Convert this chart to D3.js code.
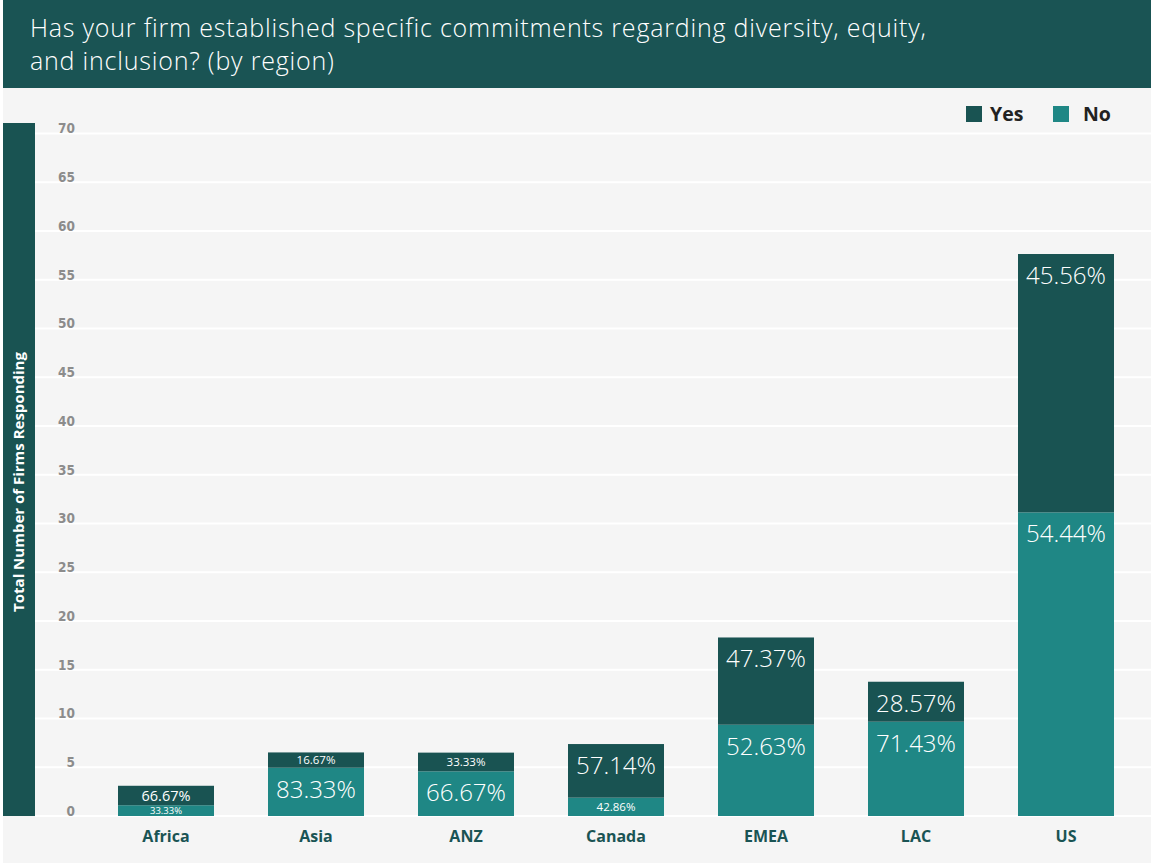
<!DOCTYPE html>
<html>
<head>
<meta charset="utf-8">
<script src="https://cdn.jsdelivr.net/npm/d3@7"></script>
<style>
  html, body { margin: 0; padding: 0; background: #ffffff; }
  svg { display: block; }
</style>
</head>
<body>
<svg id="chart" width="1151" height="867"></svg>
<script>
// Regions surveyed
const regions = ["Africa", "Asia", "ANZ", "Canada", "EMEA", "LAC", "US"];
// Number of firms per answer
const noValues  = [1.1, 4.95, 4.58, 1.88, 9.36, 9.67, 31.14];
const yesValues = [2.0, 1.57, 1.92, 5.5, 8.95, 4.1, 26.5];
// Share labels shown on each segment
const noLabels  = ["33.33%", "83.33%", "66.67%", "42.86%", "52.63%", "71.43%", "54.44%"];
const yesLabels = ["66.67%", "16.67%", "33.33%", "57.14%", "47.37%", "28.57%", "45.56%"];
const yTicks = [0, 5, 10, 15, 20, 25, 30, 35, 40, 45, 50, 55, 60, 65, 70];

const C_YES = "#195352";
const C_NO = "#1f8785";
const FONT = "'Open Sans', Lato, sans-serif";

const svg = d3.select("#chart");
const W = 1151, H = 867;

// panel background
svg.append("rect").attr("x", 3).attr("y", 0).attr("width", W - 3).attr("height", H - 4).attr("fill", "#f5f5f5");

// title banner
svg.append("rect").attr("x", 3).attr("y", 0).attr("width", W - 3).attr("height", 88).attr("fill", "#1a5454");
const title = svg.append("text").attr("fill", "#ffffff").attr("font-family", FONT)
  .attr("font-size", 25).attr("font-weight", 300).attr("letter-spacing", 0.8);
title.append("tspan").attr("x", 30).attr("y", 37).text("Has your firm established specific commitments regarding diversity, equity,");
title.append("tspan").attr("x", 30).attr("y", 70).text("and inclusion? (by region)");

// scales
const y = d3.scaleLinear().domain([0, 70]).range([816, 133.5]);
const x = d3.scaleBand().domain(regions).range([91, 1141]).paddingInner(0.36).paddingOuter(0.18);

// grid lines
svg.append("g").selectAll("line").data(yTicks).join("line")
  .attr("x1", 35).attr("x2", W)
  .attr("y1", d => y(d)).attr("y2", d => y(d))
  .attr("stroke", "#ffffff").attr("stroke-width", 2);

// y axis tick labels
const yAxis = svg.append("g").attr("transform", "translate(75,0)")
  .call(d3.axisLeft(y).tickValues(yTicks).tickSize(0).tickPadding(0));
yAxis.select(".domain").remove();
yAxis.selectAll("text")
  .attr("fill", "#8c8c8c").attr("font-family", "'DejaVu Sans Condensed', 'DejaVu Sans', sans-serif")
  .attr("font-weight", 700).attr("font-size", 13.5)
  .attr("dy", "-0.05em");

// y axis title band
svg.append("rect").attr("x", 3).attr("y", 123).attr("width", 32).attr("height", 693).attr("fill", C_YES);
svg.append("text")
  .attr("transform", "translate(24,482) rotate(-90)")
  .attr("text-anchor", "middle").attr("fill", "#ffffff")
  .attr("font-family", FONT).attr("font-weight", 700).attr("font-size", 15)
  .text("Total Number of Firms Responding");

// stacked bars
const rows = regions.map((r, i) => ({ region: r, No: noValues[i], Yes: yesValues[i], noLabel: noLabels[i], yesLabel: yesLabels[i] }));
const stack = d3.stack().keys(["No", "Yes"]);
const series = stack(rows);
const colors = { No: C_NO, Yes: C_YES };
const labelKey = { No: "noLabel", Yes: "yesLabel" };

const gBars = svg.append("g");
series.forEach(s => {
  gBars.append("g").selectAll("rect").data(s).join("rect")
    .attr("x", d => x(d.data.region))
    .attr("width", x.bandwidth())
    .attr("y", d => y(d[1]))
    .attr("height", d => y(d[0]) - y(d[1]))
    .attr("fill", colors[s.key]);
});

// segment labels: large at segment top, smaller ones centred in short segments
series.forEach(s => {
  s.forEach(d => {
    const top = y(d[1]), bottom = y(d[0]), h = bottom - top;
    const cx = x(d.data.region) + x.bandwidth() / 2;
    const t = svg.append("text").attr("x", cx).attr("text-anchor", "middle")
      .attr("fill", "#ffffff").attr("font-family", FONT).attr("font-weight", 300)
      .text(d.data[labelKey[s.key]]);
    if (h >= 30) {
      t.attr("font-size", 24).attr("y", top + 30);
    } else {
      const fs = h >= 19 ? 14.5 : (h >= 13 ? 11.5 : 9.5);
      t.attr("font-size", fs).attr("y", top + h / 2).attr("dy", "0.36em")
        .attr("font-weight", 400);
    }
  });
});

// category labels
svg.append("g").selectAll("text").data(regions).join("text")
  .attr("x", d => x(d) + x.bandwidth() / 2).attr("y", 842)
  .attr("text-anchor", "middle").attr("fill", "#1a5454")
  .attr("font-family", FONT).attr("font-weight", 700).attr("font-size", 16)
  .text(d => d);

// legend
const legend = [{ k: "Yes", c: C_YES, x: 966, tx: 990 }, { k: "No", c: C_NO, x: 1053, tx: 1083 }];
const lg = svg.append("g");
legend.forEach(l => {
  lg.append("rect").attr("x", l.x).attr("y", 106).attr("width", 16).attr("height", 16).attr("fill", l.c);
  lg.append("text").attr("x", l.tx).attr("y", 121)
    .attr("fill", "#222222").attr("font-family", FONT).attr("font-weight", 700).attr("font-size", 19.5)
    .text(l.k);
});
</script>
</body>
</html>
